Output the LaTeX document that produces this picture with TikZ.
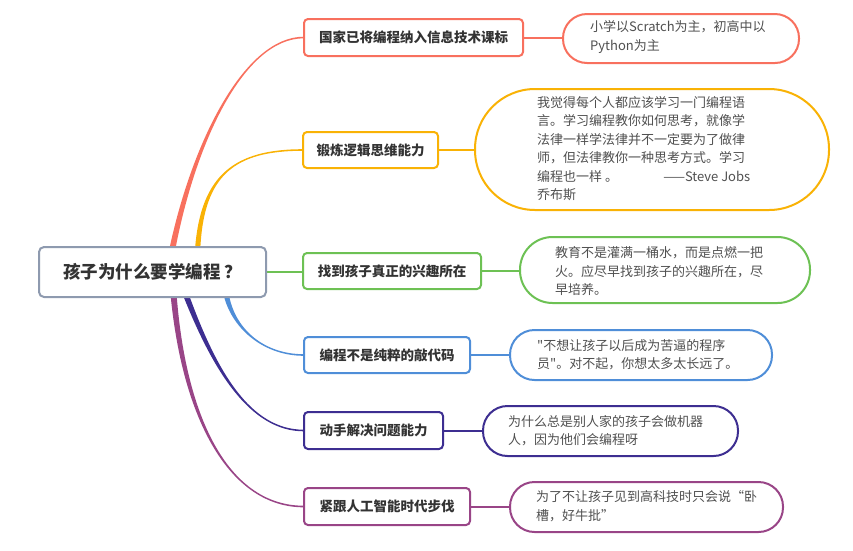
\documentclass[tikz,border=0pt]{standalone}
\usepackage{fontspec}
\setmainfont{Noto Sans CJK SC}[Ligatures=TeXOff]
\usetikzlibrary{calc}
\definecolor{cred}{HTML}{F8705E}
\definecolor{corange}{HTML}{F9B205}
\definecolor{cgreen}{HTML}{6DC154}
\definecolor{cblue}{HTML}{4F8ED8}
\definecolor{cindigo}{HTML}{3D2E91}
\definecolor{cpurple}{HTML}{994587}
\definecolor{crootb}{HTML}{8E9AAF}
\definecolor{txtdark}{HTML}{333333}
\definecolor{txtnote}{HTML}{505050}
\tikzset{
  bbox/.style={draw=#1, line width=2pt, rounded corners=4pt, fill=white, inner sep=0pt,
    font=\fontsize{13.5}{16}\selectfont\bfseries, text=txtdark},
  notebox/.style={draw=#1, line width=2pt, fill=white, inner sep=0pt},
  notetext/.style={anchor=west, align=left, inner sep=0pt,
    font=\fontsize{13}{18.5}\selectfont, text=txtnote},
  link/.style={draw=#1, line width=2pt}
}
% color, start, c1 offset from start, c2 dx back from end, end, half start width, sign
\newcommand\taper[7]{%
  \fill[#1] ($(#2)+(-#6,0)$) .. controls ($(#2)+(#3)+(-#6*0.6,0)$) and ($(#5)+(-#4,{(#7)*0.8})$) ..
    ($(#5)+(0,{(#7)*0.8})$) -- ($(#5)+(0,{-(#7)*0.8})$) .. controls ($(#5)+(-#4,{-(#7)*0.8})$) and ($(#2)+(#3)+(#6*0.6,0)$) ..
    ($(#2)+(#6,0)$) -- cycle;}
\begin{document}
\begin{tikzpicture}[x=1pt,y=-1pt]
\useasboundingbox (0,0) rectangle (853,550);
% root position (drawn on top at the end)
\path (152.5,272) node[minimum width=227pt, minimum height=50pt, inner sep=0pt] (rootpos) {};
\coordinate (s1) at ($(rootpos.north west)+(134,0)$);
\coordinate (s2) at ($(rootpos.north west)+(159,0)$);
\coordinate (s4) at ($(rootpos.south west)+(188,0)$);
\coordinate (s5) at ($(rootpos.south west)+(148,0)$);
\coordinate (s6) at ($(rootpos.south west)+(135,0)$);
% branch box positions
\path (413.5,37.5) node[minimum width=219pt, minimum height=37pt] (b1) {};
\path (370.5,150) node[minimum width=135pt, minimum height=36pt] (b2) {};
\path (392,271) node[minimum width=178pt, minimum height=36pt] (b3) {};
\path (387,355) node[minimum width=166pt, minimum height=36pt] (b4) {};
\path (373.5,430.5) node[minimum width=139pt, minimum height=37pt] (b5) {};
\path (387,506.5) node[minimum width=166pt, minimum height=37pt] (b6) {};
% notes
\path (681,38.5) node[notebox=cred, minimum width=236pt, minimum height=49pt, rounded corners=24pt] (n1) {};
\path (652,149.5) node[notebox=corange, minimum width=354pt, minimum height=121pt, rounded corners=60pt] (n2) {};
\path (665,270) node[notebox=cgreen, minimum width=290pt, minimum height=66pt, rounded corners=32.5pt] (n3) {};
\path (641,355) node[notebox=cblue, minimum width=262pt, minimum height=50pt, rounded corners=24.5pt] (n4) {};
\path (610.5,431) node[notebox=cindigo, minimum width=255pt, minimum height=50pt, rounded corners=24.5pt] (n5) {};
\path (646.5,507) node[notebox=cpurple, minimum width=273pt, minimum height=50pt, rounded corners=24.5pt] (n6) {};
% note texts
\node[notetext] (t1) at (590,37) {小学以Scratch为主，初高中以\\Python为主};
\node[notetext] (t2) at (537,148.5) {我觉得每个人都应该学习一门编程语\\言。学习编程教你如何思考，就像学\\法律一样学法律并不一定要为了做律\\师，但法律教你一种思考方式。学习\\\makebox[213pt][l]{编程也一样 。\hfill ——Steve Jobs}\\乔布斯};
\node[notetext] (t3) at (555,271.5) {教育不是灌满一桶水，而是点燃一把\\火。应尽早找到孩子的兴趣所在，尽\\早培养。};
\node[notetext] (t4) at (537,354.5) {"不想让孩子以后成为苦逼的程序\\员"。对不起，你想太多太长远了。};
\node[notetext] (t5) at (508,430.5) {为什么总是别人家的孩子会做机器\\人，因为他们会编程呀};
\node[notetext] (t6) at (536,506) {为了不让孩子见到高科技时只会说“卧\\槽，好牛批”};
% links branch -> note
\draw[link=cred] (b1.east) -- (b1.east -| n1.west);
\draw[link=corange] (b2.east) -- (b2.east -| n2.west);
\draw[link=cgreen] (b3.east) -- (b3.east -| n3.west);
\draw[link=cblue] (b4.east) -- (b4.east -| n4.west);
\draw[link=cindigo] (b5.east) -- (b5.east -| n5.west);
\draw[link=cpurple] (b6.east) -- (b6.east -| n6.west);
% tapered connectors root -> branches
\taper{cred}{s1}{22,-107}{59}{b1.west}{3}{-1}
\taper{corange}{s2}{5,-72}{68}{b2.west}{2.6}{-1}
\taper{cblue}{s4}{8,33}{39}{b4.west}{2.6}{1}
\taper{cindigo}{s5}{28,73}{54}{b5.west}{3}{1}
\taper{cpurple}{s6}{11,123}{74}{b6.west}{3}{1}
\draw[link=cgreen, line width=2.5pt] (rootpos.east) -- (rootpos.east -| b3.west);
% boxes on top of connector ends
\node[bbox=cred, minimum width=219pt, minimum height=37pt] at (b1) {国家已将编程纳入信息技术课标};
\node[bbox=corange, minimum width=135pt, minimum height=36pt] at (b2) {锻炼逻辑思维能力};
\node[bbox=cgreen, minimum width=178pt, minimum height=36pt] at (b3) {找到孩子真正的兴趣所在};
\node[bbox=cblue, minimum width=166pt, minimum height=36pt] at (b4) {编程不是纯粹的敲代码};
\node[bbox=cindigo, minimum width=139pt, minimum height=37pt] at (b5) {动手解决问题能力};
\node[bbox=cpurple, minimum width=166pt, minimum height=37pt] at (b6) {紧跟人工智能时代步伐};
\node[draw=crootb, line width=2pt, rounded corners=5pt, fill=white, minimum width=227pt, minimum height=50pt, inner sep=0pt,
  font=\fontsize{17.5}{20}\selectfont\bfseries, text=txtdark] (root) at (rootpos) {孩子为什么要学编程\kern4pt？};
\end{tikzpicture}
\end{document}
